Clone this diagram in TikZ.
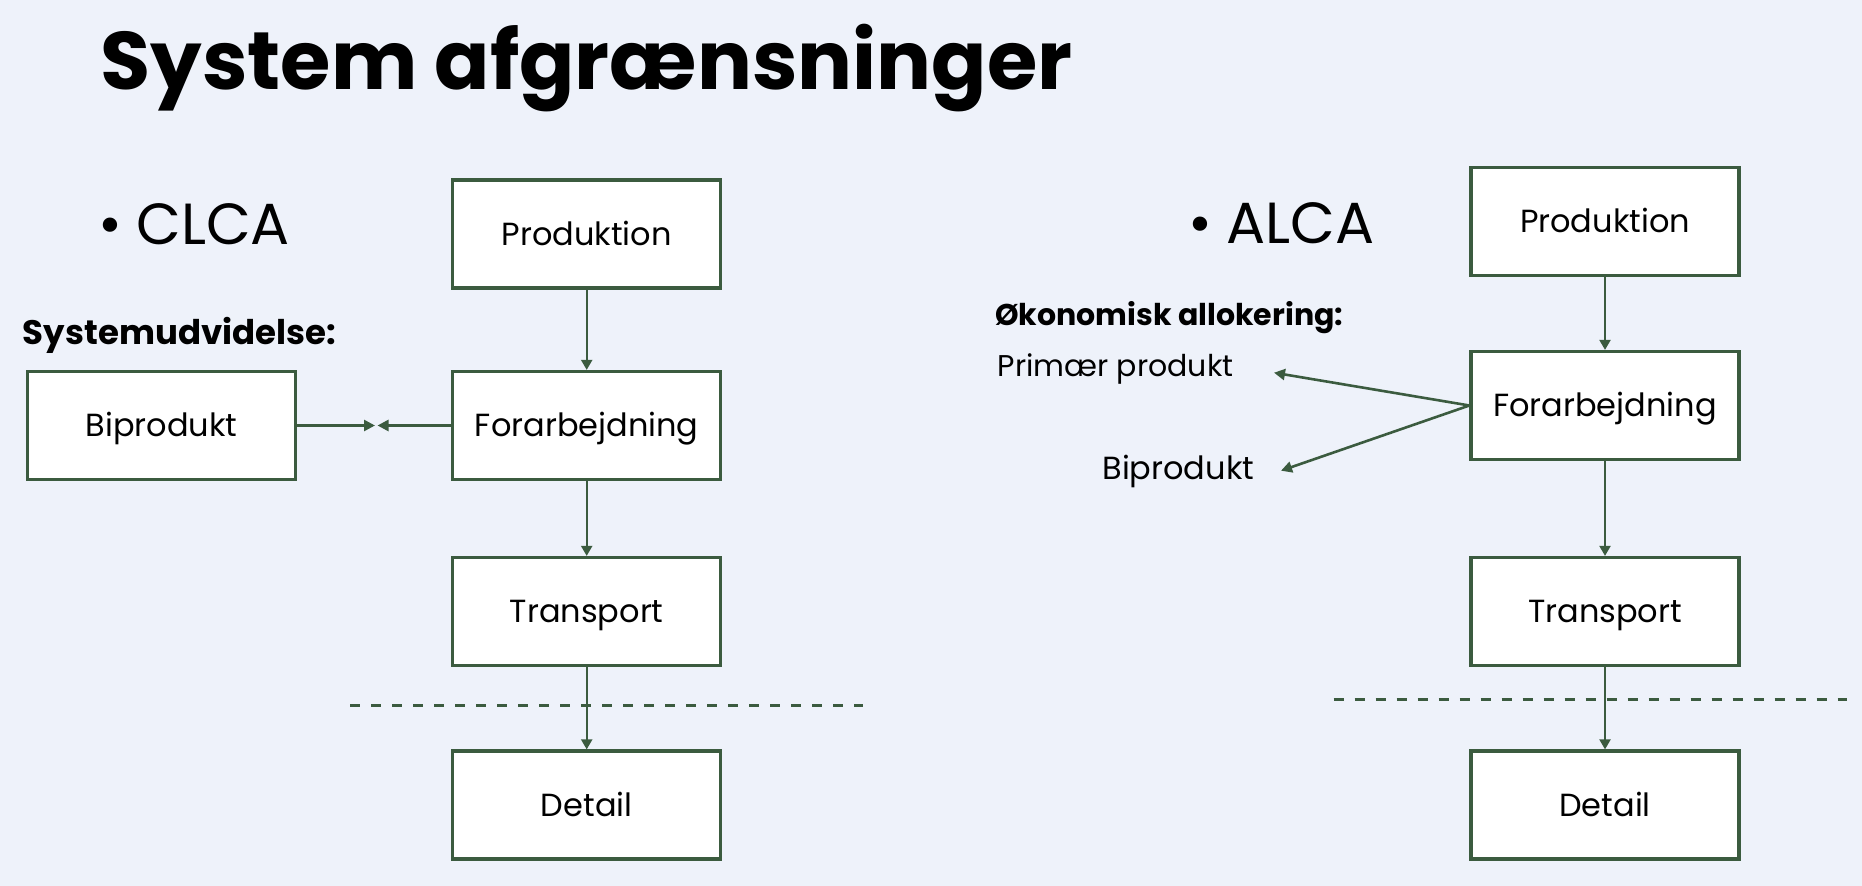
\documentclass[tikz,border=0pt]{standalone}
\usepackage{fontspec}
\setmainfont{Poppins}
\usetikzlibrary{arrows.meta}
\definecolor{bg}{HTML}{EEF2FA}
\definecolor{grn}{HTML}{3B5B3F}
\begin{document}
\begin{tikzpicture}[x=0.5pt,y=-0.5pt,
  box/.style={draw=grn,line width=1.6pt,fill=white,minimum width=134pt,minimum height=54pt,inner sep=0pt,
    font=\fontsize{16}{19}\selectfont,text height=11.2pt,text depth=0pt},
  conn/.style={draw=grn,line width=1.05pt,-{Triangle[length=5pt,width=5.5pt]}},
  thick conn/.style={draw=grn,line width=1.3pt,-{Triangle[length=5.5pt,width=5.5pt]}},
  cut/.style={draw=grn,line width=1.5pt,dash pattern=on 5pt off 5.5pt},
  lbl/.style={anchor=base west,inner sep=0pt,font=\fontsize{15}{18}\selectfont},
  head/.style={anchor=base west,inner sep=0pt,font=\fontsize{17}{21}\selectfont\bfseries},
  bul/.style={anchor=base west,inner sep=0pt,font=\fontsize{29}{34}\selectfont}]
\fill[bg] (0,0) rectangle (1862,886);
\useasboundingbox (0,0) rectangle (1862,886);
% title
\node[anchor=base west,inner sep=0pt,font=\fontsize{40.8}{48}\selectfont\bfseries] (title) at (100,90) {System afgrænsninger};
% CLCA side
\node[bul] (clca) at (98,244.5) {•\hspace{7pt}CLCA};
\node[head] (sysud) at (22.6,344.3) {Systemudvidelse:};
\node[box] (p1) at (586.7,234) {Produktion};
\node[box] (f1) at (586.7,425.5) {Forarbejdning};
\node[box] (t1) at (586.7,611.5) {Transport};
\node[box] (d1) at (586.7,805) {Detail};
\node[box] (b1) at (161.7,425.5) {Biprodukt};
\coordinate (m1) at (375,425.5);
\coordinate (m2) at (377.5,425.5);
\coordinate (c1a) at (350,705.4);
\coordinate (c1b) at (863,705.4);
\draw[cut] (c1a) -- (c1b);
\draw[conn] (p1) -- (f1);
\draw[conn] (f1) -- (t1);
\draw[conn] (t1) -- (d1);
\draw[thick conn] (b1.east) -- (m1);
\draw[thick conn] (f1.west) -- (m2);
% ALCA side
\node[bul] (alca) at (1188,244) {•\hspace{7pt}ALCA};
\node[head,font=\fontsize{15}{18}\selectfont\bfseries] (okon) at (995,326) {Økonomisk allokering:};
\node[lbl] (prim) at (997.5,376.7) {Primær produkt};
\node[lbl,font=\fontsize{16}{19}\selectfont] (bip) at (1102,480) {Biprodukt};
\node[box] (p2) at (1605,221.5) {Produktion};
\node[box] (f2) at (1605,405.5) {Forarbejdning};
\node[box] (t2) at (1605,611.5) {Transport};
\node[box] (d2) at (1605,805) {Detail};
\coordinate (a1) at (1274,372.7);
\coordinate (a2) at (1281,470.7);
\coordinate (c2a) at (1333.6,699.5);
\coordinate (c2b) at (1846.6,699.5);
\draw[cut] (c2a) -- (c2b);
\draw[conn] (p2) -- (f2);
\draw[conn] (f2) -- (t2);
\draw[conn] (t2) -- (d2);
\draw[thick conn] (f2.west) -- (a1);
\draw[thick conn] (f2.west) -- (a2);
\end{tikzpicture}
\end{document}
